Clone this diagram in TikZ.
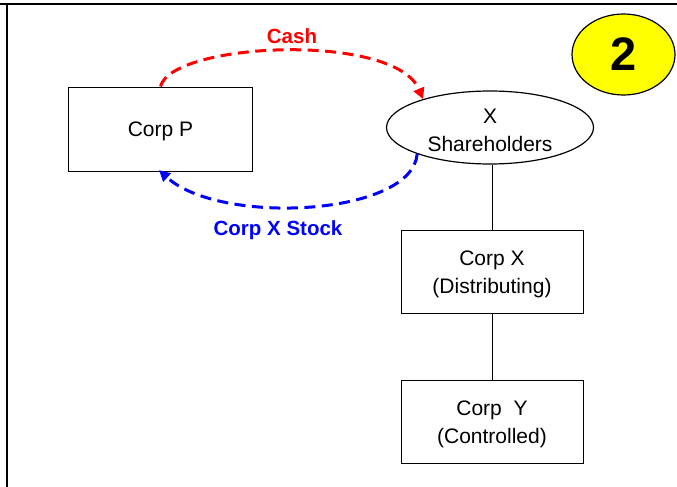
\documentclass[tikz,border=0pt]{standalone}
\usepackage{fontspec}
\setmainfont{Liberation Sans}
\usetikzlibrary{shapes.geometric,arrows.meta}
\newcommand{\lowr}{\rule{0pt}{20pt}}
\begin{document}
\begin{tikzpicture}[x=1pt,y=-1pt,
  txt/.style={font=\fontsize{21}{27.5}\selectfont,align=center},
  boxnode/.style={txt,draw=black,line width=1pt,minimum width=184pt,minimum height=84pt,inner sep=0pt},
  flowarrow/.style={line width=3pt,dash pattern=on 11pt off 6.5pt,-{Triangle[length=11pt,width=11pt]}},
  lbl/.style={font=\fontsize{20.5}{24}\selectfont\bfseries}
]
\useasboundingbox (0,0) rectangle (677,487);
\draw[line width=2pt] (0,4) -- (677,4);
\draw[line width=2pt] (7,4) -- (7,487);
\node[boxnode] (cp) at (160.5,129) {\lowr Corp P};
\node[txt,draw=black,line width=1.2pt,ellipse,minimum width=207pt,minimum height=73pt,inner sep=0pt] (xs) at (490,127.5) {\lowr X\\Shareholders};
\node[boxnode,minimum width=182pt,minimum height=83pt] (cx) at (492,271.5) {\lowr Corp X\\(Distributing)};
\node[boxnode,minimum width=182pt,minimum height=83pt] (cy) at (492,421.5) {\lowr Corp\ \ Y\\(Controlled)};
\node[ellipse,draw=black,line width=1.2pt,fill={rgb,255:red,255;green,255;blue,0},minimum width=103pt,minimum height=81pt,inner sep=0pt,font=\fontsize{47}{47}\selectfont\bfseries] (two) at (623.5,54.5) {2};
\draw[line width=1pt] (cx.north) -- (cx.north |- xs.south);
\draw[line width=1pt] (cx.south) -- (cy.north);
\draw[flowarrow,red] (cp.north) .. controls (172,42) and (395,32) .. (xs.157);
\draw[flowarrow,blue,shorten >=-2pt] (xs.200) .. controls (412,216) and (220,226) .. (cp.south);
\node[lbl,text=red] (cash) at (292,36) {Cash};
\node[lbl,text=blue] (stock) at (278,230) {Corp X Stock};
\end{tikzpicture}
\end{document}
